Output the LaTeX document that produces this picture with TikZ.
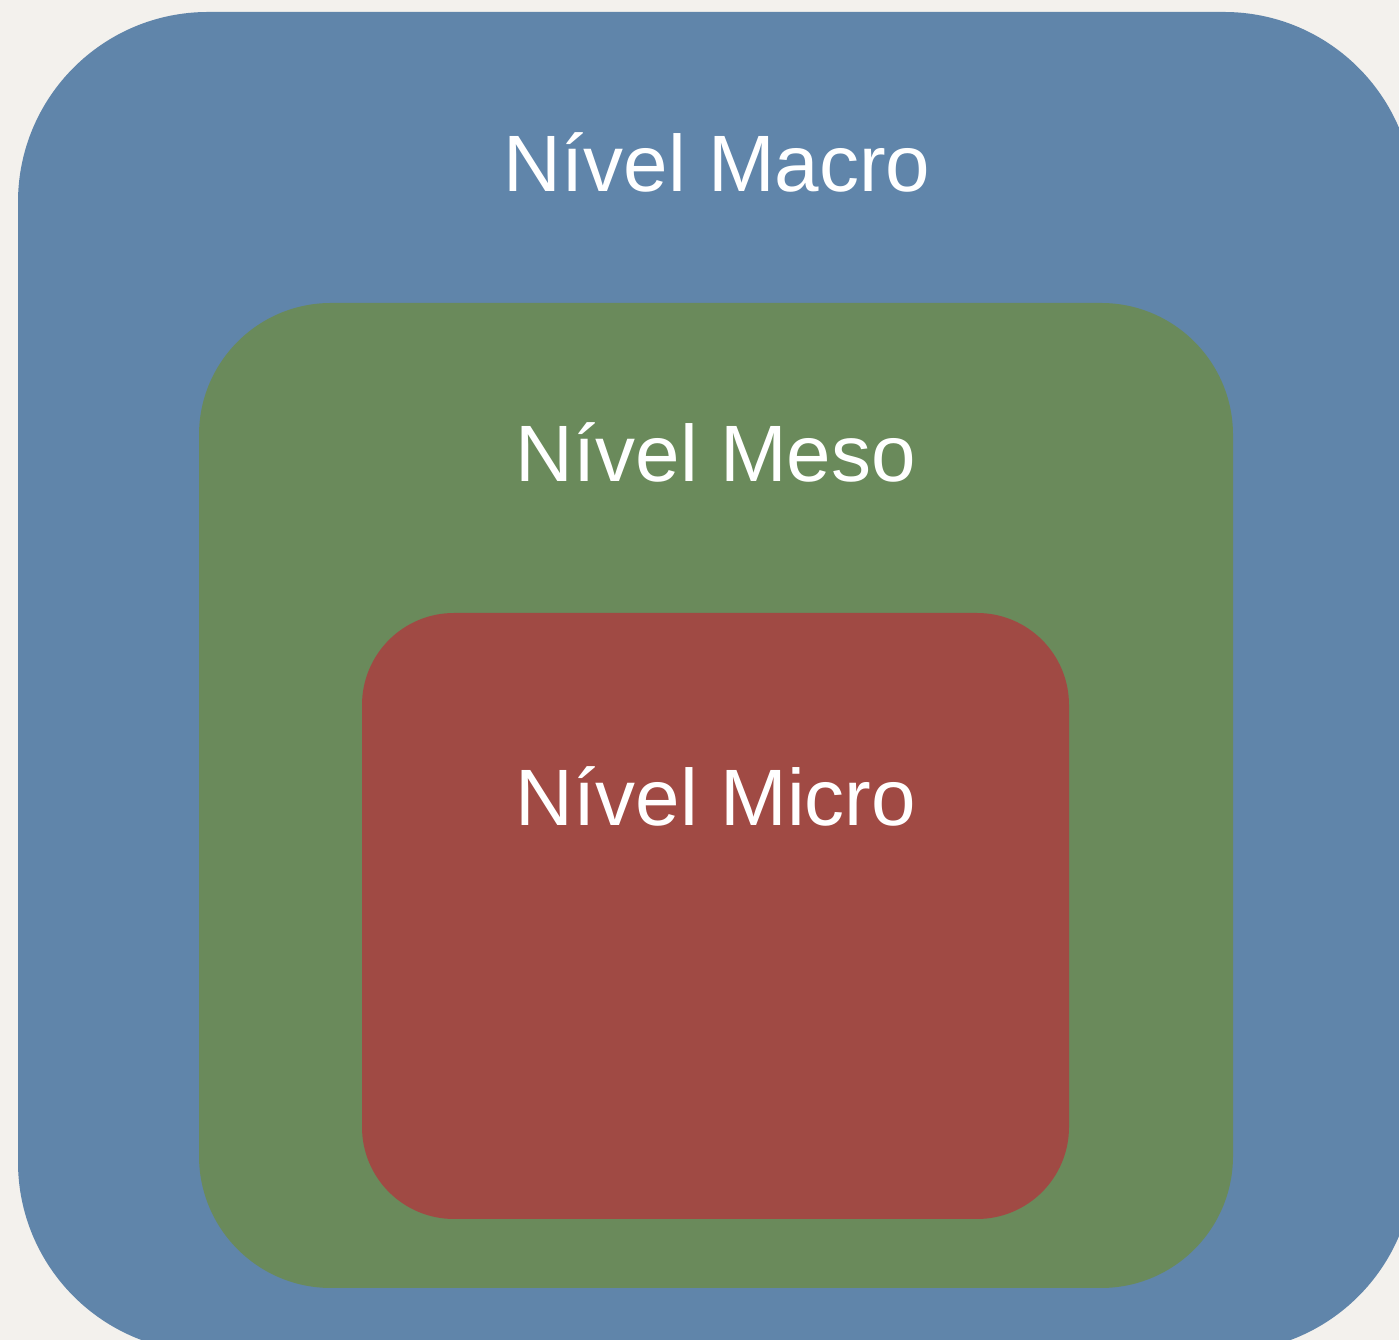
\documentclass[tikz,border=0pt]{standalone}
\usepackage{fontspec}
\setmainfont{Liberation Sans}
\definecolor{bgc}{RGB}{243,241,237}
\definecolor{macroc}{RGB}{96,133,170}
\definecolor{mesoc}{RGB}{106,138,91}
\definecolor{microc}{RGB}{160,74,68}
\begin{document}
\begin{tikzpicture}[x=1pt,y=1pt,
  lvl/.style={text=white,anchor=base,inner sep=0pt,font=\fontsize{80}{96}\selectfont}]
\useasboundingbox (0,0) rectangle (1399,1340);
\clip (0,0) rectangle (1399,1340);
\fill[bgc] (0,0) rectangle (1399,1340);
\fill[macroc,rounded corners=190pt] (18,1328) rectangle (1414,-12);
\fill[mesoc,rounded corners=132pt] (199,1037) rectangle (1233,52);
\fill[microc,rounded corners=92pt] (362,727) rectangle (1069,121);
\node[lvl] (macro) at (717,1148) {Nível Macro};
\node[lvl] (meso) at (716,858) {Nível Meso};
\node[lvl] (micro) at (716,514) {Nível Micro};
\end{tikzpicture}
\end{document}
